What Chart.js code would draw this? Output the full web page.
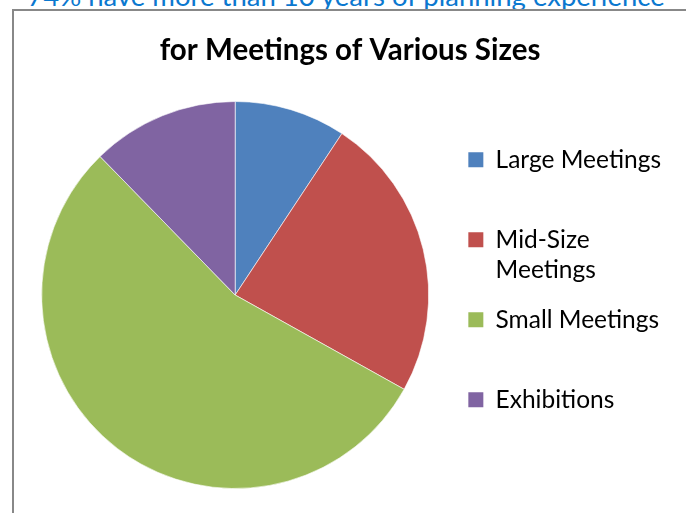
<!DOCTYPE html>
<html>
<head>
<meta charset="utf-8">
<script src="https://cdn.jsdelivr.net/npm/chart.js@4"></script>
<style>
  html, body { margin: 0; padding: 0; background: #fff; overflow: hidden; }
  body { width: 686px; height: 513px; position: relative; }
  #headline {
    position: absolute; left: 0; width: 692px; top: -18px;
    text-align: center; font-family: Lato, sans-serif; font-size: 27.5px;
    color: #0b78cf; white-space: nowrap; line-height: 27px;
  }
  #frame {
    position: absolute; left: 12px; top: 9px; width: 686px; height: 516px;
    border: 2px solid #888;
  }
</style>
</head>
<body>
<div id="headline">74% have more than 10 years of planning experience</div>
<div id="frame"><canvas id="myChart"></canvas></div>
<script>
// pie data
const categories = ['Large Meetings', 'Mid-Size Meetings', 'Small Meetings', 'Exhibitions'];
const shares = [9.3, 23.8, 54.6, 12.3];
const sliceColors = ['#4f81bd', '#c0504d', '#9bbb59', '#8064a2'];
const chartTitle = 'for Meetings of Various Sizes';

// legend lines: Mid-Size wraps, the rest get a blank 2nd line (Excel spaces them out)
function legendLines(name) {
  if (name === 'Mid-Size Meetings') return ['Mid-Size', 'Meetings'];
  return [name, ''];
}

const ctx = document.getElementById('myChart').getContext('2d');
const myChart = new Chart(ctx, {
  type: 'pie',
  data: {
    labels: categories,
    datasets: [{
      data: shares,
      backgroundColor: sliceColors,
      borderColor: 'rgba(255,255,255,0.6)',
      borderWidth: 1,
    }],
  },
  options: {
    responsive: true,
    maintainAspectRatio: false,
    animation: false,
    layout: { padding: { left: 8, right: 29, top: 0, bottom: 38 } },
    plugins: {
      title: {
        display: true,
        text: ' ' + chartTitle, // leading space nudges it a bit right like the original
        color: '#000',
        font: { family: 'Lato', size: 29.5, weight: 'bold' },
        padding: { top: 21.3, bottom: 33.3 },
      },
      legend: {
        position: 'right',
        fullSize: false,
        // empty title only used as a small spacer above the items
        title: { display: true, text: '', color: '#000', font: { size: 1, lineHeight: '5px' }, padding: 0 },
        labels: {
          color: '#000',
          font: { family: 'Lato', size: 24.5, lineHeight: '30px' },
          boxWidth: 15,
          boxHeight: 15,
          padding: 20,
          generateLabels: (chart) => categories.map((name, i) => ({
            text: legendLines(name),
            fillStyle: sliceColors[i],
            strokeStyle: sliceColors[i],
            fontColor: '#000',
            lineWidth: 0,
            hidden: false,
            index: i,
          })),
        },
      },
      tooltip: { enabled: false },
    },
  },
});
</script>
</body>
</html>
